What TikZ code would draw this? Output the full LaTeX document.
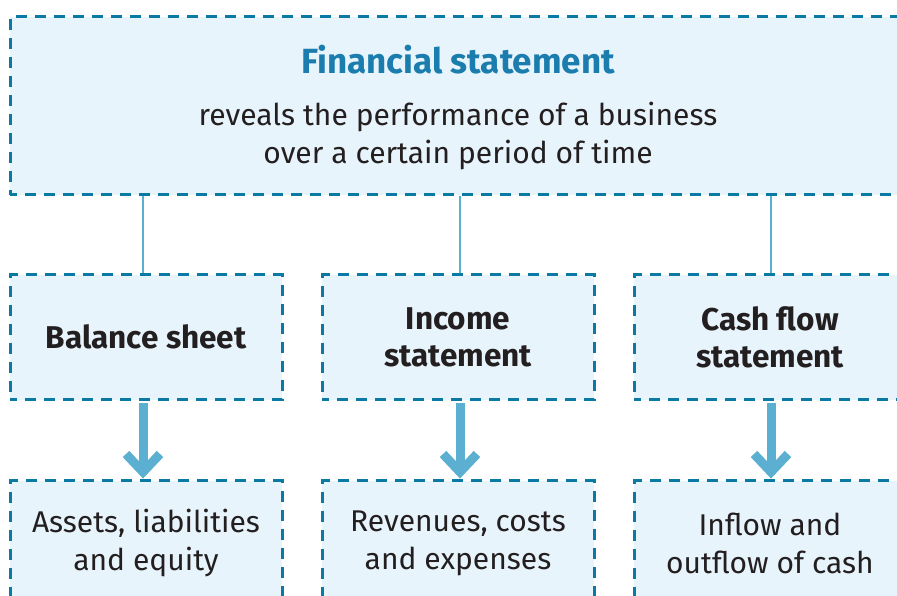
\documentclass[tikz,border=0pt]{standalone}
\usepackage{fontspec}
\setmainfont{Fira Sans}
\usetikzlibrary{calc}
\definecolor{boxfill}{HTML}{E8F4FB}
\definecolor{boxline}{HTML}{0A7AA5}
\definecolor{titleblue}{HTML}{1A7DAE}
\definecolor{arrowblue}{HTML}{5BAFD1}
\definecolor{textdark}{HTML}{231F20}
\tikzset{
  box/.style={draw=boxline, fill=boxfill, line width=3pt,
    dash pattern=on 11pt off 8pt, dash phase=4pt,
    minimum width=272pt, minimum height=125pt, inner sep=0pt,
    align=center, text=textdark, font=\fontsize{30}{38}\selectfont},
  midbox/.style={box, font=\fontsize{31.5}{37}\selectfont\bfseries},
  topbox/.style={box, minimum width=896pt, minimum height=178pt},
  link/.style={draw=arrowblue, line width=2pt},
  shaft/.style={draw=arrowblue, line width=9pt},
  chev/.style={draw=arrowblue, line width=9pt, line join=miter}
}
\begin{document}
\begin{tikzpicture}[x=1pt,y=-1pt]
\useasboundingbox (0,0) rectangle (897,596);
\clip (0,0) rectangle (897,596);
\node[topbox] (fs) at (458,106) {\rule{0pt}{31pt}{\fontsize{35}{38}\selectfont\color{titleblue}\bfseries Financial statement}\\[14pt]
  reveals the performance of a business\\ over a certain period of time};
\node[midbox] (bs) at (146,337) {Balance sheet};
\node[midbox] (is) at (458,337) {Income\\statement};
\node[midbox] (cf) at (770,337) {Cash flow\\statement};
\node[box] (bs2) at (146,543) {Assets, liabilities\\and equity};
\node[box] (is2) at (458,543) {Revenues, costs\\and expenses};
\node[box] (cf2) at (770,543) {Inflow and\\outflow of cash};
\foreach \a/\b/\d in {bs/bs2/-3, is/is2/2, cf/cf2/1}{
  \draw[link] ($(fs.south -| \a.north)+(\d,0)$) -- ($(\a.north)+(\d,0)$);
  \draw[shaft] ($(\a.south)+(\d,1.5)$) -- ($(\b.north)+(\d,-6)$);
  \draw[chev] ($(\b.north)+(\d-17,-25)$) -- ($(\b.north)+(\d,-7)$) -- ($(\b.north)+(\d+17,-25)$);
}
\end{tikzpicture}
\end{document}
